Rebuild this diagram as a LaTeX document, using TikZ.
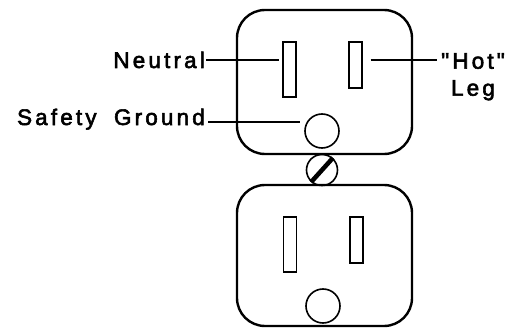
\documentclass[tikz,border=0pt]{standalone}
\usepackage{fontspec}
\newfontfamily\lblfont{Liberation Sans}[FakeBold=2.5, LetterSpace=14]

\tikzset{
  face/.style={line width=2.4pt, rounded corners=28pt},
  slot/.style={draw, rectangle, line width=1.4pt, inner sep=0pt,
    minimum width=13pt, minimum height=55pt},
  hotslot/.style={slot, minimum height=46pt},
  gnd/.style={draw, circle, line width=1.6pt, inner sep=0pt, minimum size=34pt},
  lbl/.style={inner sep=0pt, font=\lblfont\fontsize{22.5}{27}\selectfont},
  lead/.style={line width=1.7pt},
}

\begin{document}
\begin{tikzpicture}[x=1pt, y=-1pt]
    \useasboundingbox (0,0) rectangle (515,329);
    \clip (0,0) rectangle (515,329);

    % Upper outlet
    \draw[face] (237,10) rectangle (412,154);
    \node[slot] (tn) at (289.5,69.5) {};
    \node[hotslot] (th) at (355.5,65) {};
    \node[gnd] (tg) at (322,131) {};

    % Mounting screw
    \node[gnd, minimum size=31pt] (screw) at (322,170) {};
    \draw[line width=4.5pt] (screw.228) -- (screw.48);

    % Lower outlet
    \draw[face] (237,185) rectangle (412,326);
    \node[slot] (bn) at (290,244.5) {};
    \node[hotslot] (bh) at (356.5,240) {};
    \node[gnd] (bg) at (323,306) {};

    % Labels
    \node[lbl, anchor=base east] (neutral) at (205,68) {Neutral};
    \node[lbl, anchor=base east] (safety) at (205,125) {Safety\hspace{8pt} Ground};
    \node[lbl, align=center, anchor=north west] (hot) at (441,53) {"Hot"\\Leg};
    \coordinate (sg) at ([yshift=3pt]safety.base east);

    \draw[lead, shorten <=1pt, shorten >=3pt] (neutral.east) -- (tn.west |- neutral.east);
    \draw[lead, shorten <=3pt, shorten >=4pt] (sg) -- (tg.west |- sg);
    \draw[lead, shorten <=8pt, shorten >=4pt] (th.east |- neutral.east) -- (hot.west |- neutral.east);
\end{tikzpicture}
\end{document}
